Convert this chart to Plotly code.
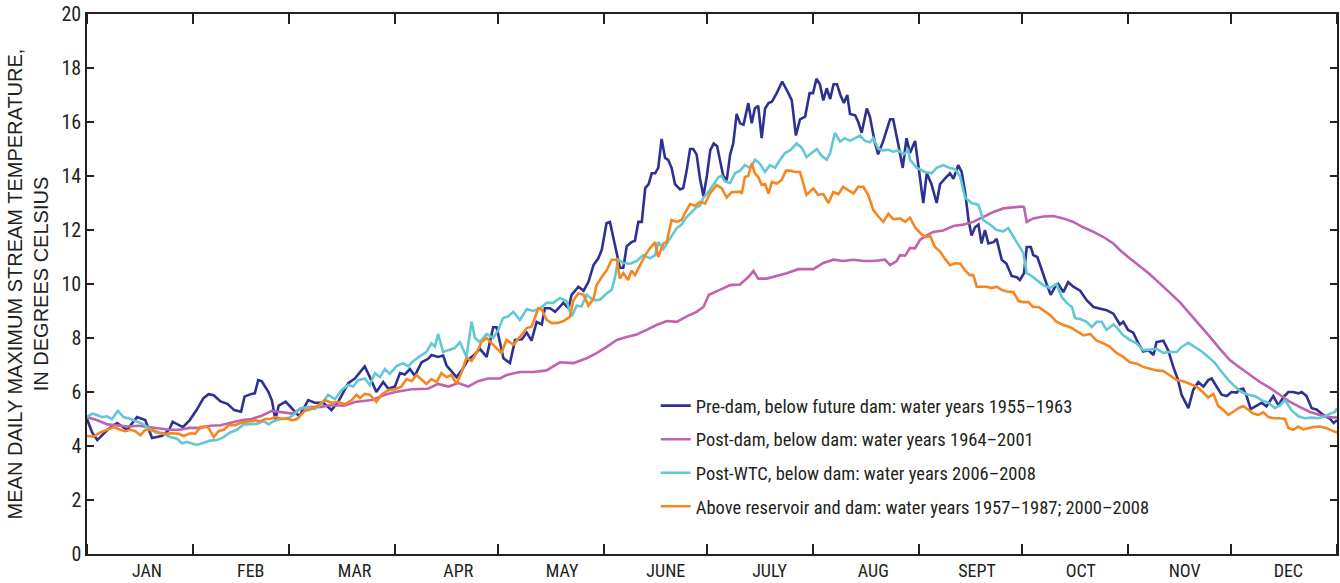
import plotly.graph_objects as go

# ---------------- data (day of year, mean daily maximum temperature, deg C) -------------
month_labels = ["JAN", "FEB", "MAR", "APR", "MAY", "JUNE", "JULY", "AUG", "SEPT", "OCT", "NOV", "DEC"]
month_starts = [0, 31, 59, 90, 120, 151, 181, 212, 243, 273, 304, 334, 365]

series_names = [
    "Pre-dam, below future dam: water years 1955\u20131963",
    "Post-dam, below dam: water years 1964\u20132001",
    "Post-WTC, below dam: water years 2006\u20132008",
    "Above reservoir and dam: water years 1957\u20131987; 2000\u20132008",
]
series_colors = ["#2E3192", "#C062AE", "#62C8D4", "#F7861F"]

predam = [(0,5.0),(1.5,4.5),(3,4.22),(6,4.6),(8.8,4.85),(11.7,4.6),(14.6,5.07),(17,4.96),(19,4.3),(22,4.38),(24,4.6),(25,4.9),(28,4.7),(30,4.96),(32,5.33),(34,5.77),(35.5,5.92),(37,5.88),(39,5.65),(41,5.56),(43,5.33),(45,5.27),(46,5.83),(48,5.93),(49,5.95),(50,6.44),(51,6.4),(53,6.0),(54,5.68),(55,4.98),(56,5.5),(58,5.64),(60,5.37),(62,5.1),
(64.6,5.7),(66.5,5.6),(69,5.6),(71.4,5.33),(73.4,5.65),(76.3,6.33),(78.2,6.5),(81.1,6.95),(82.6,6.55),(84.5,6.0),(86.5,6.37),(88,6.12),(89.9,6.2),(91.4,6.7),(92.8,6.65),(94.3,6.85),(95.7,6.6),(97.7,7.1),(99.6,7.23),(100.6,7.37),(102.5,7.3),(104,7.35),(105,6.98),(106.4,6.78),(107.9,6.55),(109.4,6.8),(111.3,7.2),(113.3,7.4),(114.7,7.6),(116.7,7.3),(118.6,8.4),(119.6,8.4),(121,7.5),(121.6,7.25),(123.5,7.07),(125,7.93),(127,7.95),(128.4,8.2),(129.8,7.9),(131.3,8.6),(132.8,8.5),(133.7,9.1),(135.2,9.1),(136.7,8.97),(139.1,9.3),(140.6,9.1),(141.5,9.6),(143.5,9.9),(145,9.75),(146.4,10.07),(147.9,10.7),(149.3,10.95),(150.3,11.26),(151.7,12.25),(152.7,12.3),(154.2,11.4),(155.6,10.6),(156.6,10.6),(157.6,11.4),(159,11.55),(160,11.6),(161,12.3),(162,12.3),(163,13.55),(164,13.7),(164.9,14.1),(165.9,14.1),(166.8,14.3),(167.8,15.37),(168.8,14.67),(169.7,14.6),(170.7,14.3),(171.7,13.7),(173.2,13.5),(174.1,13.55),(175.1,14.2),(176.1,15.0),(177,15.0),(178,14.8),(179,13.9),(180,13.25),(181,14.0),(182,14.96),(183,15.2),(184,15.1),(184.8,14.6),(185.8,14.0),(186.8,13.85),(187.8,14.8),(188.7,15.2),(189.7,16.3),(190.7,15.95),(191.7,15.9),(193.1,16.7),(194.1,15.95),(195,16.5),(196,16.6),(197,15.4),(198,16.5),(199,16.7),(200,16.75),(201.4,17.07),(203,17.5),(204.8,17.07),(205.8,16.8),(207,15.5),(208.2,16.1),(209.7,16.2),(211,17.07),(212,17.07),(213,17.6),(214,17.4),(215,16.8),(216,17.25),(217,16.85),(218,17.4),(219,17.4),(220,17.0),(221,16.7),(222,17.0),(222.8,16.3),(224.3,16.25),(225.2,16.0),(226.2,15.6),(227.7,16.5),(228.6,16.2),(230,15.27),(231,14.8),(232.5,15.3),(234.5,16.1),(235.4,16.1),(237,15.1),(238.2,14.3),(239.3,15.4),(240.3,14.85),(241.8,15.3),(242.8,14.4),(244.2,13.0),(245.2,14.1),(246.6,13.7),(248.1,13.0),(249.1,13.7),(250.5,13.9),(252,14.1),(253,13.9),(254.4,14.4),(255.4,14.15),(256.4,13.4),(257.4,12.37),(258.3,11.8),(259.3,12.1),(260.3,12.2),(261.2,11.5),(262.2,12.0),(263.2,11.5),(264.7,11.55),(265.6,11.67),(267.1,10.9),(268.5,10.75),(270,10.3),(271.5,10.25),(272.4,10.15),(273.6,10.4),(274.4,11.37),(275.6,11.37),(276.3,11.07),(277.5,11.0),(278.8,10.5),(280.2,10.0),(281.4,9.6),(282.7,9.9),(283.6,10.0),(285.1,9.7),(286.5,10.07),(288,9.9),(290,9.75),(291.9,9.4),(293.9,9.15),(295.8,9.1),(297.7,9.03),(299.7,8.9),(301.6,8.5),(302.6,8.6),(304,8.3),(305.5,8.2),(307,7.8),(308.4,7.5),(309.9,7.55),(311.4,7.37),(312.3,7.85),(314.3,7.9),(315.7,7.55),(317.2,6.93),(318.6,6.44),(319.6,5.9),(321.6,5.4),(323,6.07),(324.5,6.37),(326,6.2),(327.4,6.44),(328.4,6.5),(329.8,6.2),(331.3,5.9),(332.8,5.85),(334.2,6.0),(335.7,5.98),(336.7,6.1),(337.6,6.12),(338.6,5.85),(339.8,5.37),(341.5,5.5),(343,5.6),(344.4,5.47),(346.4,5.85),(347.9,5.5),(349.3,5.8),(350.8,6.0),(352.2,6.0),(353.7,5.95),(354.7,6.0),(356.1,5.85),(357.6,5.4),(359,5.35),(361,5.15),(363,5.0),(364,4.85),(365,4.95)]

postdam = [(0,5.07),(3,4.95),(6,4.8),(9,4.75),(12,4.72),(15,4.75),(18,4.7),(21,4.65),(24,4.6),(27,4.6),(30,4.67),(33,4.67),(36,4.75),(39,4.77),(42,4.85),(45,4.95),(48,5.0),(51,5.12),(54,5.3),(57,5.25),(60,5.2),(62,5.35),(64.6,5.44),(68.5,5.45),(70.4,5.5),(75.3,5.5),(78.2,5.63),(83.1,5.7),(87,5.9),(90,6.0),(94.8,6.1),(99.6,6.12),(102.5,6.3),(105.5,6.2),(108.4,6.33),(111.3,6.2),(114.2,6.4),(117.1,6.5),(120.6,6.5),(122.5,6.63),(126.4,6.74),(130.3,6.74),(134.2,6.8),(138.1,7.1),(142,7.07),(145.9,7.25),(148.8,7.44),(151.7,7.67),(154.7,7.93),(157.6,8.04),(160.5,8.13),(163.4,8.3),(166.3,8.48),(169.3,8.63),(172.2,8.6),(175.1,8.8),(178,8.97),(180,9.15),(181.6,9.6),(184.8,9.78),(187.8,9.96),(190.7,9.98),(193.1,10.26),(194.6,10.48),(196,10.2),(198.5,10.2),(201.4,10.3),(204.3,10.4),(207.7,10.55),(212.1,10.55),(215,10.78),(218,10.9),(220.8,10.85),(223.8,10.9),(226.7,10.85),(229.6,10.85),(233,10.9),(234.5,10.7),(236.4,10.85),(237.4,11.07),(238.9,11.05),(240.3,11.33),(241.8,11.33),(243.2,11.63),(245.2,11.8),(247.1,11.93),(250,11.98),(253,12.15),(255.9,12.2),(258.8,12.3),(261.7,12.48),(264.7,12.67),(267.6,12.8),(270.5,12.85),(273,12.87),(273.6,12.85),(274.4,12.3),(276.3,12.43),(279.2,12.5),(282.2,12.52),(285.1,12.43),(288,12.3),(290.9,12.1),(293.9,11.93),(296.8,11.74),(299.7,11.5),(301.6,11.26),(304,11.0),(307,10.7),(310,10.4),(313,10.05),(316,9.7),(319.1,9.33),(322,8.9),(325,8.48),(327.9,8.04),(330.8,7.6),(333.7,7.18),(336.7,6.9),(339.6,6.63),(342.5,6.37),(345.4,6.15),(348.3,5.9),(351.3,5.63),(354.2,5.44),(357.1,5.26),(360,5.15),(363,5.07),(365,5.05)]

postwtc = [(0,5.07),(1.5,5.2),(2.9,5.15),(4.4,5.07),(5.8,5.1),(7.3,5.0),(9,5.3),(10.7,5.07),(12.7,5.0),(14.6,4.9),(16.5,4.8),(18.5,4.6),(20.4,4.5),(22.4,4.45),(24.3,4.33),(26.3,4.27),(27.7,4.1),(29.2,4.15),(30.7,4.1),(32.1,4.04),(34.1,4.12),(36,4.2),(38,4.22),(39.9,4.33),(41.8,4.5),(43.8,4.6),(45.7,4.8),(47.7,4.8),(49.6,4.82),(51.6,4.92),(53,4.8),(54.5,4.92),(56.4,5.0),(58.4,5.0),(60.3,5.15),(62.3,5.4),(64.6,5.44),(66.5,5.37),(68.5,5.56),(70.4,5.9),(72.4,5.73),(74.3,6.07),(76.3,6.26),(77.7,6.2),(79.2,6.44),(81.1,6.5),(82.6,6.26),(84.1,6.7),(85.5,6.55),(87,6.85),(88.4,6.67),(90.4,6.96),(92.3,7.07),(93.8,6.95),(95.3,7.15),(97.2,7.33),(99.1,7.48),(100.6,7.8),(101.6,7.68),(102.5,8.15),(104,7.48),(105.5,7.55),(107.4,7.63),(108.9,7.85),(110.8,7.3),(112.3,8.6),(113.3,8.0),(114.7,7.85),(116.7,8.15),(118.6,8.0),(120.1,8.3),(121.5,8.74),(123,8.8),(124.5,8.97),(126.4,8.67),(128.4,9.07),(130.3,9.0),(132.3,9.1),(134.2,9.3),(136.2,9.3),(138.1,9.48),(140,9.37),(141.5,8.8),(143,9.2),(144.4,9.17),(145.9,9.6),(147.9,9.4),(149.8,9.42),(151.7,9.65),(153.2,9.78),(154.2,10.26),(155.1,10.9),(156.6,10.78),(158.6,10.75),(160.5,10.85),(162.4,11.07),(164.4,10.95),(165.9,11.07),(166.8,11.55),(168.3,11.3),(170.3,11.7),(172.2,12.07),(173.6,12.2),(175.1,12.48),(176.6,12.67),(178,12.85),(179,12.9),(180,13.2),(181.4,13.4),(182.9,13.67),(184.4,13.96),(185.3,14.0),(186.3,13.8),(187.8,13.74),(189.2,14.1),(190.7,14.2),(192.1,14.4),(193.6,14.3),(195.1,14.6),(196.5,14.45),(198,14.15),(199.4,14.4),(200.9,14.3),(202.4,14.6),(203.8,14.85),(205.3,14.95),(207.2,15.2),(208.7,15.05),(210.1,14.7),(211.6,14.85),(213.1,15.0),(214.5,14.75),(216,14.6),(217,14.85),(218.4,15.6),(219.9,15.27),(221.3,15.4),(222.8,15.3),(224.3,15.4),(225.7,15.5),(227.2,15.3),(228.6,15.25),(229.6,15.4),(231.1,15.0),(232.5,14.95),(234,14.97),(235.4,14.9),(236.9,14.95),(238.4,14.8),(239.8,14.95),(240.3,14.6),(242.3,14.3),(244.7,14.15),(246.6,14.1),(248.1,14.3),(250,14.4),(252,14.3),(253.5,14.25),(255,13.96),(256.4,13.2),(258.3,13.0),(260.3,12.93),(261.7,12.37),(263.7,12.2),(265.6,12.0),(267.6,11.95),(269,12.07),(270.5,11.74),(272,11.44),(273.4,11.15),(274.4,10.4),(275.8,10.3),(277.3,10.15),(279.2,9.96),(281.2,9.85),(283.1,10.0),(284.6,9.52),(286.1,9.3),(287.6,9.15),(288.5,8.74),(290,8.7),(291.9,8.6),(293.4,8.4),(294.8,8.6),(296.3,8.6),(297.7,8.3),(299.7,8.5),(300.6,8.4),(302.6,8.1),(304.5,7.93),(306.5,7.8),(308.4,7.55),(310.4,7.57),(312.3,7.6),(314.3,7.45),(316.2,7.48),(318.2,7.48),(319.6,7.67),(321.6,7.82),(323.5,7.67),(325.5,7.5),(327.4,7.3),(329.4,7.07),(331.3,6.75),(333.3,6.44),(335.2,6.2),(337.1,6.0),(339.1,5.9),(341,5.85),(343,5.7),(345,5.6),(346.9,5.4),(348.3,5.5),(349.8,5.7),(351.7,5.33),(353.7,5.1),(355.6,5.03),(357.6,5.05),(359.5,5.03),(361.5,5.1),(363,5.2),(364.4,5.26),(365,5.4)]

above = [(0,4.37),(1.9,4.35),(3.9,4.5),(5.8,4.6),(7.8,4.7),(9.7,4.6),(11.2,4.55),(12.7,4.6),(14.1,4.55),(15.6,4.4),(17,4.6),(19,4.6),(20.9,4.5),(22.9,4.45),(24.8,4.47),(26.8,4.45),(28.2,4.37),(30.2,4.47),(31.6,4.45),(33.1,4.7),(34.5,4.72),(35.5,4.67),(37,4.33),(38.4,4.55),(39.9,4.6),(41.4,4.77),(43.3,4.77),(44.8,4.85),(46.2,4.9),(47.7,4.92),(49.1,4.95),(50.6,4.92),(52.1,5.0),(53.5,5.0),(55,5.07),(56.9,5.0),(58.4,5.03),(59.9,4.95),(61.3,5.0),(62.8,5.2),(63.6,5.3),(65.6,5.37),(67.5,5.5),(69.5,5.7),(71.4,5.6),(73.4,5.63),(75.3,5.55),(77.3,5.7),(78.7,5.9),(79.7,5.77),(81.1,5.93),(82.6,5.9),(84.5,5.63),(86,5.9),(88,6.07),(89.9,6.1),(91.8,6.2),(93.3,6.48),(94.8,6.4),(96.2,6.63),(97.7,6.44),(99.1,6.3),(100.6,6.48),(102.1,6.37),(103.5,6.7),(105,6.55),(106.4,6.63),(107.9,6.3),(109.4,6.74),(110.8,7.26),(112.3,7.15),(113.7,7.44),(115.2,7.85),(116.7,8.0),(118.2,7.8),(119.6,7.6),(121,7.44),(122.5,7.93),(124.5,7.75),(126.4,8.04),(128.4,8.37),(129.8,8.42),(130.8,8.78),(131.8,9.1),(132.8,9.05),(134.2,8.67),(135.7,8.55),(137.6,8.56),(139.1,8.63),(141,8.78),(142,9.4),(143.5,9.65),(145,9.6),(146.4,9.2),(147.9,9.45),(148.8,9.96),(150.3,10.26),(151.7,10.5),(153.2,10.9),(154.7,10.9),(155.6,10.2),(156.6,10.4),(158,10.15),(159,10.5),(160,10.33),(161.5,10.7),(163,11.07),(164.4,11.33),(165.9,11.55),(166.8,11.0),(168.3,11.5),(169.3,11.55),(170.7,12.37),(172.2,12.3),(173.6,12.37),(174.6,12.63),(176.1,12.96),(177.5,12.9),(179,13.04),(180.5,12.98),(181.9,13.35),(183.9,13.67),(185.3,13.55),(186.8,13.2),(188.2,13.4),(190.7,13.42),(191.2,13.35),(192.1,13.96),(193.1,14.0),(194.1,14.48),(195,14.1),(196,13.96),(197,13.67),(198,13.7),(199,13.35),(200,13.78),(201.4,13.72),(202.8,13.85),(204.1,14.2),(205.3,14.2),(206.7,14.15),(208.2,14.15),(210.1,13.3),(212.1,13.54),(213.5,13.3),(215,13.33),(216.5,13.0),(217.9,13.4),(219.4,13.33),(220.8,13.6),(222.3,13.48),(223.8,13.35),(225.2,13.6),(226.7,13.6),(228.1,13.3),(229.6,12.74),(231.1,12.5),(232.5,12.3),(234,12.6),(235.4,12.4),(236.9,12.42),(237.4,12.43),(238.9,12.3),(240.3,12.46),(241.8,12.1),(243.2,11.9),(244.7,11.74),(246.2,11.77),(247.6,11.37),(249.1,11.2),(250.6,10.92),(252,10.7),(253.5,10.77),(255,10.75),(256.4,10.5),(257.8,10.33),(258.8,10.33),(259.8,9.9),(261.2,9.9),(262.7,9.9),(264.2,9.85),(265.6,9.9),(267.1,9.78),(268.5,9.72),(270.5,9.7),(272,9.37),(273.4,9.33),(274.9,9.33),(276.3,9.15),(277.8,9.15),(279.2,9.03),(281.2,8.85),(283.1,8.6),(285.1,8.48),(287.1,8.4),(289,8.26),(291,8.1),(292.9,8.15),(294.8,7.9),(296.8,7.8),(298.7,7.67),(300.6,7.45),(302.6,7.3),(304.5,7.1),(306.5,7.05),(308.4,6.93),(310.4,6.87),(312.3,6.8),(314.3,6.78),(316.2,6.63),(318.2,6.44),(320.1,6.4),(322,6.3),(324,6.2),(326,5.97),(327.4,5.8),(328.9,5.93),(330.3,5.48),(331.8,5.33),(333.3,5.15),(334.7,5.27),(336.2,5.4),(337.6,5.48),(339.1,5.33),(340.6,5.2),(342,5.15),(343.5,5.25),(345,5.07),(346.4,5.03),(348.3,5.03),(349.8,5.0),(350.8,4.67),(352.2,4.6),(353.7,4.72),(355.1,4.62),(356.6,4.66),(358,4.7),(360,4.72),(362,4.66),(363.9,4.55),(365,4.5)]

series_data = [predam, postdam, postwtc, above]

# ---------------- figure ----------------
FONT = "Liberation Sans Narrow, Roboto Condensed, Arial Narrow, sans-serif"
TITLE_FONT = "Liberation Sans, Arial, sans-serif"
INK = "#231F20"

fig = go.Figure()
for i, (name, color, data) in enumerate(zip(series_names, series_colors, series_data)):
    fig.add_trace(go.Scatter(
        x=[d for d, _ in data], y=[v for _, v in data],
        mode="lines", name=name, legendgroup=f"g{i}",
        line=dict(color=color, width=2.6),
    ))

# month labels are evenly spaced along the axis in the original artwork
label_step = 30.3
label_pos = [17.5 + label_step * i for i in range(len(month_labels))]

fig.update_layout(
    width=1340, height=583,
    margin=dict(l=87, r=3, t=14, b=29),
    paper_bgcolor="white", plot_bgcolor="white",
    font=dict(family=FONT, color=INK, size=19),
    showlegend=True,
    legend=dict(
        x=0.455, y=0.309, xanchor="left", yanchor="top",
        bgcolor="rgba(0,0,0,0)", borderwidth=0,
        font=dict(family=FONT, size=18.5, color=INK),
        traceorder="grouped", tracegroupgap=6.5,
    ),
    xaxis=dict(
        range=[0, 365], showgrid=False, zeroline=False, automargin=False,
        showline=True, linecolor=INK, linewidth=1.5, mirror="ticks",
        tickmode="array", tickvals=label_pos, ticktext=month_labels,
        ticks="", tickfont=dict(size=18),
        minor=dict(tickmode="array", tickvals=month_starts, ticks="inside",
                   ticklen=10, tickwidth=1.5, tickcolor=INK, showgrid=False),
    ),
    yaxis=dict(
        range=[0, 20], showgrid=False, zeroline=False, automargin=False,
        showline=True, linecolor=INK, linewidth=1.5, mirror="ticks",
        tickmode="array", tickvals=list(range(0, 21, 2)),
        ticks="inside", ticklen=7, tickwidth=1.5, tickcolor=INK,
        tickfont=dict(size=20),
        title=dict(text="MEAN DAILY MAXIMUM STREAM TEMPERATURE,<br>IN DEGREES CELSIUS",
                   font=dict(family=TITLE_FONT, size=20), standoff=8),
    ),
)

fig.write_html(
    "out.html",
    config={"displayModeBar": False},
    post_script="document.body.style.margin='0';document.body.style.overflow='hidden';",
)
